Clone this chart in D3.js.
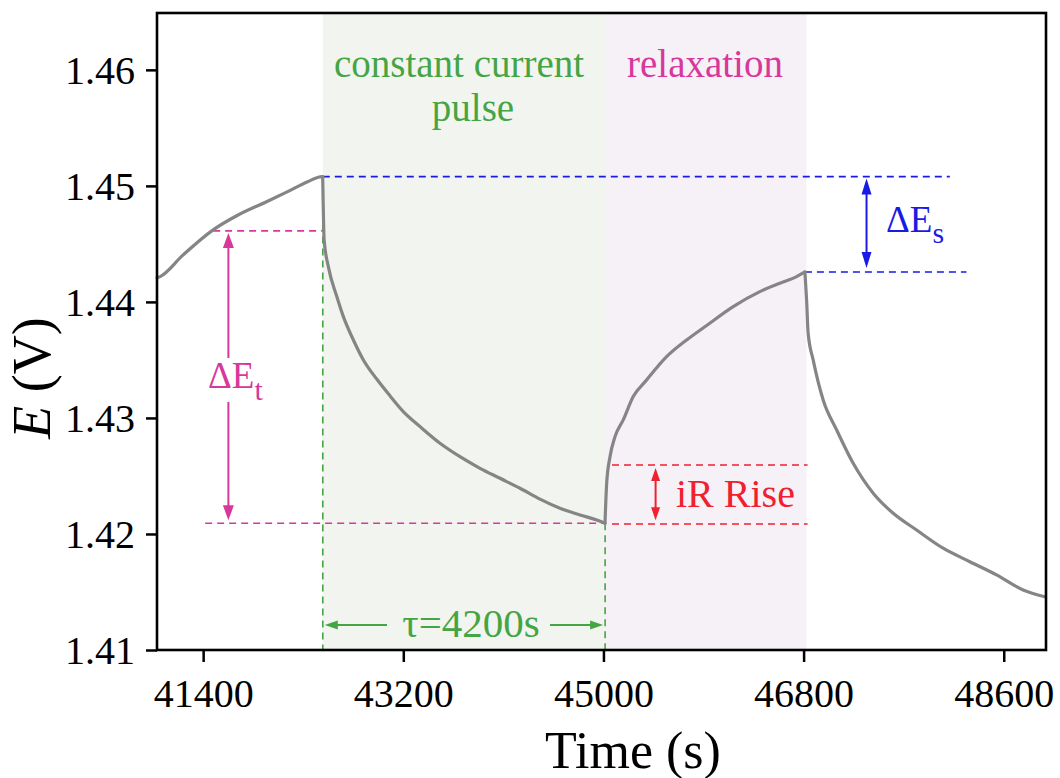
<!DOCTYPE html>
<html><head><meta charset="utf-8">
<script src="https://cdn.jsdelivr.net/npm/d3@7"></script>
<style>
html,body{margin:0;padding:0;background:#fff;}
svg{display:block;}
svg text{font-family:"Liberation Serif","Times New Roman",serif;}
</style></head>
<body><svg id="c" width="1060" height="778"></svg>
<script>
// ---- data ----
const xTicks = [41400, 43200, 45000, 46800, 48600];
const yTicks = [1.41, 1.42, 1.43, 1.44, 1.45, 1.46];
const restBefore = [[40986,1.44207],[41013,1.44218],[41220,1.44405],[41490,1.44621],[41706,1.44745],[41975,1.44865],[42155,1.44948],[42335,1.45034],[42452,1.45078],[42475,1.45080]];
const pulse = [[42475,1.45080],[42479,1.44879],[42488,1.44534],[42526,1.44304],[42602,1.44046],[42661,1.43873],[42751,1.43672],[42841,1.43500],[42961,1.43335],[43081,1.43190],[43200,1.43055],[43351,1.42925],[43530,1.42782],[43710,1.42666],[43890,1.42566],[44070,1.42480],[44250,1.42394],[44429,1.42300],[44609,1.42222],[44789,1.42164],[44939,1.42121],[45014,1.42092]];
const relaxation = [[45014,1.42092],[45029,1.42437],[45059,1.42666],[45104,1.42839],[45178,1.42983],[45268,1.43184],[45389,1.43328],[45568,1.43528],[45748,1.43672],[45928,1.43797],[46167,1.43960],[46407,1.44089],[46587,1.44161],[46737,1.44218],[46812,1.44258]];
const restAfter = [[46812,1.44258],[46827,1.44017],[46841,1.43730],[46886,1.43500],[46976,1.43155],[47097,1.42897],[47246,1.42609],[47426,1.42351],[47606,1.42178],[47816,1.42034],[48055,1.41877],[48295,1.41761],[48535,1.41647],[48774,1.41517],[48969,1.41459]];
const phases = [[42476, 45015, "pulse"], [45015, 46825, "relax"]];
const levels = {peak: 1.45080, relaxEnd: 1.44258, minE: 1.42092, iR: 1.42595, dEtTop: 1.44612, tauE: 1.41216};

// ---- layout ----
const L = 157, R = 1046, T = 13, B = 650;
const FONT = '"Liberation Serif","Times New Roman",serif';
const x = d3.scaleLinear().domain([40985, 48980]).range([L, R]);
const y = d3.scaleLinear().domain([1.41, 1.4649]).range([B, T]);
const svg = d3.select("#c");

const colGreen = "#45a545", colPink = "#d8379c", colBlue = "#1a1ae6", colRed = "#f0202e";

// shading
svg.append("rect").attr("x", x(phases[0][0])).attr("y", T).attr("width", x(phases[0][1]) - x(phases[0][0])).attr("height", B - T).attr("fill", "#f2f5ef");
svg.append("rect").attr("x", x(phases[1][0])).attr("y", T).attr("width", x(phases[1][1]) - x(phases[1][0])).attr("height", B - T).attr("fill", "#f6f0f7");

function dash(x1, x2, e1, e2, col, w) {
  svg.append("line").attr("x1", x(x1)).attr("x2", x(x2)).attr("y1", y(e1)).attr("y2", y(e2))
    .attr("stroke", col).attr("stroke-width", w || 1.6).attr("stroke-dasharray", "7,5");
}
dash(42476, 48115, levels.peak, levels.peak, colBlue);
dash(46812, 48265, levels.relaxEnd, levels.relaxEnd, colBlue);
dash(41490, 42476, levels.dEtTop, levels.dEtTop, colPink);
dash(41418, 45015, levels.minE, levels.minE, colPink);
dash(45077, 46836, levels.iR, levels.iR, colRed);
dash(45077, 46836, levels.minE - 0.00006, levels.minE - 0.00006, colRed);
dash(42476, 42476, levels.peak, 1.41, colGreen);
dash(45015, 45015, levels.minE, 1.41, colGreen);

// curve
const line = d3.line().x(d => x(d[0])).y(d => y(d[1])).curve(d3.curveMonotoneX);
[restBefore, pulse, relaxation, restAfter].forEach(seg => {
  svg.append("path").datum(seg).attr("d", line).attr("fill", "none")
    .attr("stroke", "#858585").attr("stroke-width", 3.2).attr("stroke-linejoin", "round").attr("stroke-linecap", "round");
});

// arrows
function head(px, py, dir, col, len, wid) {
  let pts;
  if (dir === "up") pts = [[px, py], [px - wid/2, py + len], [px + wid/2, py + len]];
  if (dir === "down") pts = [[px, py], [px - wid/2, py - len], [px + wid/2, py - len]];
  if (dir === "left") pts = [[px, py], [px + len, py - wid/2], [px + len, py + wid/2]];
  if (dir === "right") pts = [[px, py], [px - len, py - wid/2], [px - len, py + wid/2]];
  svg.append("polygon").attr("points", pts.map(p => p.join(",")).join(" ")).attr("fill", col);
}
function seg(x1, y1, x2, y2, col, w) {
  svg.append("line").attr("x1", x1).attr("y1", y1).attr("x2", x2).attr("y2", y2).attr("stroke", col).attr("stroke-width", w || 2);
}
{
  const ax = x(41627), yt = y(levels.dEtTop) + 2, yb = y(levels.minE) - 3;
  seg(ax, yt + 10, ax, 358, colPink);
  seg(ax, 402, ax, yb - 10, colPink);
  head(ax, yt, "up", colPink, 15, 11);
  head(ax, yb, "down", colPink, 15, 11);
}
{
  const ax = x(47366), yt = y(levels.peak) + 2, yb = y(levels.relaxEnd) - 4;
  seg(ax, yt + 10, ax, yb - 10, colBlue);
  head(ax, yt, "up", colBlue, 16, 10);
  head(ax, yb, "down", colBlue, 16, 10);
}
{
  const ax = x(45469), yt = y(levels.iR) + 3, yb = y(levels.minE) - 3;
  seg(ax, yt + 8, ax, yb - 8, colRed);
  head(ax, yt, "up", colRed, 13, 9);
  head(ax, yb, "down", colRed, 13, 9);
}
{
  const ay = y(levels.tauE), xl = x(42476) + 2, xr = x(45015) - 2;
  seg(xl + 8, ay, 387, ay, colGreen);
  head(xl, ay, "left", colGreen, 13, 9);
  seg(550, ay, xr - 8, ay, colGreen);
  head(xr, ay, "right", colGreen, 13, 9);
}

// texts
function txt(tx, ty, s, col, size, anchor) {
  return svg.append("text").attr("x", tx).attr("y", ty).attr("fill", col).attr("font-size", size)
    .attr("font-family", FONT).attr("text-anchor", anchor || "start").text(s);
}
txt(459, 77, "constant current", colGreen, 39, "middle");
txt(473, 121, "pulse", colGreen, 39, "middle");
txt(705, 77, "relaxation", colPink, 39, "middle");
txt(471, 637, "τ=4200s", colGreen, 41, "middle");
txt(676, 507, "iR Rise", colRed, 40);
{
  const t1 = svg.append("text").attr("x", 208).attr("y", 388).attr("fill", colPink).attr("font-size", 37).attr("font-family", FONT);
  t1.append("tspan").text("ΔE");
  t1.append("tspan").attr("font-size", 30).attr("dy", 12).text("t");
  const t2 = svg.append("text").attr("x", 886).attr("y", 232).attr("fill", colBlue).attr("font-size", 37).attr("font-family", FONT);
  t2.append("tspan").text("ΔE");
  t2.append("tspan").attr("font-size", 30).attr("dy", 11).text("s");
}

// axes
const gx = svg.append("g").attr("transform", `translate(0,${B})`)
  .call(d3.axisBottom(x).tickValues(xTicks).tickFormat(d3.format("d")).tickSize(12).tickSizeOuter(0));
const gy = svg.append("g").attr("transform", `translate(${L},0)`)
  .call(d3.axisLeft(y).tickValues(yTicks).tickFormat(d3.format(".2f")).tickSize(11).tickSizeOuter(0));
[gx, gy].forEach(g => {
  g.attr("font-family", FONT);
  g.select(".domain").remove();
  g.selectAll(".tick line").attr("stroke", "#000").attr("stroke-width", 2.5);
  g.selectAll(".tick text").attr("fill", "#000").attr("font-size", 40).attr("font-family", FONT);
});
gx.selectAll(".tick text").attr("dy", "0").attr("y", 57);
gy.selectAll(".tick text").attr("x", -22).attr("dy", "0.34em");

// frame
svg.append("rect").attr("x", L).attr("y", T).attr("width", R - L).attr("height", B - T)
  .attr("fill", "none").attr("stroke", "#000").attr("stroke-width", 2.6);

// axis titles
svg.append("text").attr("x", 633).attr("y", 768).attr("text-anchor", "middle").attr("font-size", 52).attr("font-family", FONT).text("Time (s)");
{
  const yt = svg.append("text").attr("transform", "translate(50,378) rotate(-90)").attr("text-anchor", "middle").attr("font-size", 54).attr("font-family", FONT);
  yt.append("tspan").attr("font-style", "italic").text("E");
  yt.append("tspan").text(" (V)");
}
</script></body></html>
